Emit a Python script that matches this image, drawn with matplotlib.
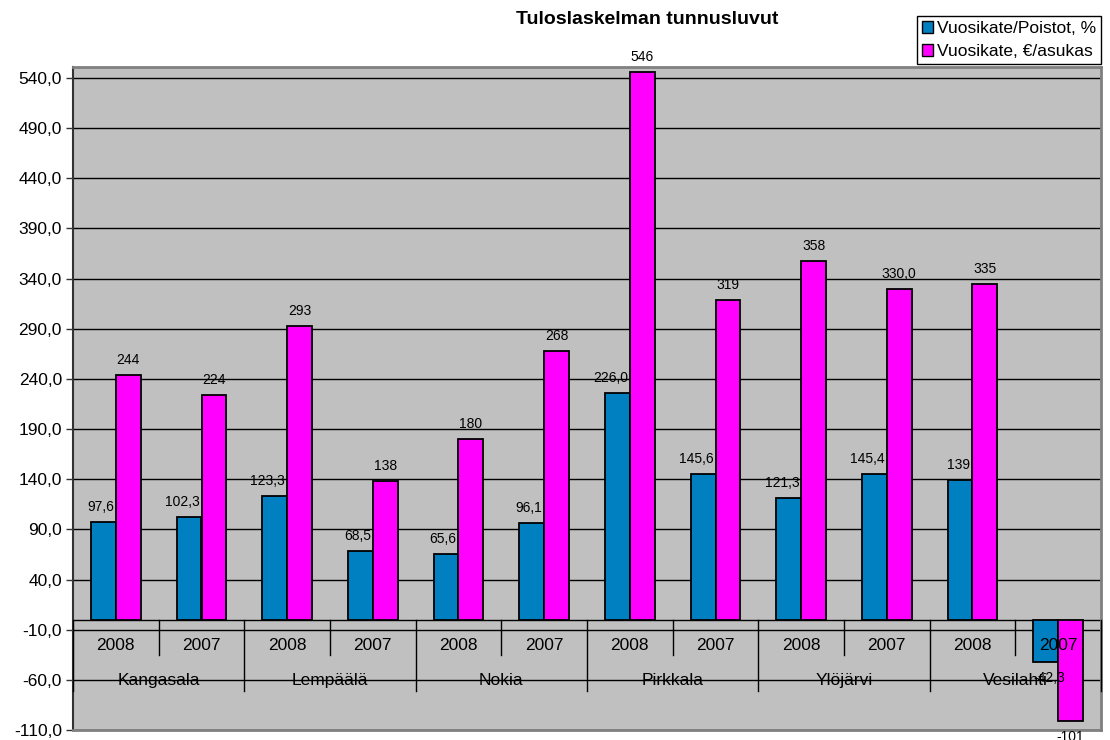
import matplotlib.pyplot as plt
from matplotlib.patches import Patch
import numpy as np

plt.rcParams['font.family'] = ['Liberation Sans', 'DejaVu Sans']

towns = ['Kangasala', 'Lempäälä', 'Nokia', 'Pirkkala', 'Ylöjärvi', 'Vesilahti']
years = ['2008', '2007']
poistot = [97.6, 102.3, 123.3, 68.5, 65.6, 96.1, 226.0, 145.6, 121.3, 145.4, 139.0, -42.3]
asukas = [244, 224, 293, 138, 180, 268, 546, 319, 358, 330.0, 335, -101]
poistot_labels = ['97,6', '102,3', '123,3', '68,5', '65,6', '96,1', '226,0', '145,6',
                  '121,3', '145,4', '139', '-42,3']
asukas_labels = ['244', '224', '293', '138', '180', '268', '546', '319', '358', '330,0',
                 '335', '-101']

blue = '#0080C0'
pink = '#FF00FF'

fig = plt.figure(figsize=(11.1, 7.4), dpi=100)
ax = fig.add_axes([73 / 1110, 10 / 740, 1028 / 1110, 663 / 740])
ax.set_facecolor('#C0C0C0')

n = len(poistot)
x = np.arange(n)
w = 0.29

ax.set_xlim(-0.5, n - 0.5)
ax.set_ylim(-110, 551)
ticks = np.arange(-110, 541, 50)
ax.set_yticks(ticks)
ax.set_yticklabels([f'{t:.1f}'.replace('.', ',') for t in ticks], fontsize=12.5)
ax.tick_params(axis='y', direction='out', length=5, width=1, color='#333333', pad=3)
ax.set_xticks([])
for t in ticks:
    ax.axhline(t, color='black', lw=1, zorder=1)
ax.axhline(0, color='black', lw=1, zorder=1)

ax.bar(x - w / 2, poistot, w, color=blue, edgecolor='black', lw=1.3, zorder=2)
ax.bar(x + w / 2, asukas, w, color=pink, edgecolor='black', lw=1.3, zorder=4)

# blue labels sit roughly right-aligned to the blue bar, under the pink bars
for xi, v, s in zip(x, poistot, poistot_labels):
    if v >= 0:
        ax.annotate(s, (xi, v), xytext=(-2, 8), textcoords='offset pixels',
                    ha='right', va='bottom', fontsize=10, zorder=3)
    else:
        ax.annotate(s, (xi - w / 2, v), xytext=(4, -9), textcoords='offset pixels',
                    ha='center', va='top', fontsize=10, zorder=5)
for xi, v, s in zip(x, asukas, asukas_labels):
    off = 8 if v >= 0 else -9
    ax.annotate(s, (xi + w / 2, v), xytext=(0, off), textcoords='offset pixels',
                ha='center', va='bottom' if v >= 0 else 'top', fontsize=10, zorder=5,
                annotation_clip=False)

# category table under the zero line
for i in range(n + 1):
    bottom = -71 if i % 2 == 0 else -35
    ax.plot([i - 0.5, i - 0.5], [0, bottom], color='black', lw=1, zorder=6, clip_on=False)
for i in range(n):
    ax.text(i, -26, years[i % 2], ha='center', va='center', fontsize=12.5, zorder=6)
for j, t in enumerate(towns):
    ax.text(2 * j + 0.5, -61, t, ha='center', va='center', fontsize=12.5, zorder=6)

for side in ['top', 'right', 'bottom']:
    ax.spines[side].set_color('#808080')
    ax.spines[side].set_linewidth(2)
ax.spines['left'].set_color('#333333')
ax.spines['left'].set_linewidth(1.5)

fig.text(647 / 1110, 1 - 20 / 740, 'Tuloslaskelman tunnusluvut', ha='center', va='center',
         fontsize=14, fontweight='bold')

handles = [Patch(facecolor=blue, edgecolor='black'), Patch(facecolor=pink, edgecolor='black')]
leg = fig.legend(handles, ['Vuosikate/Poistot, %', 'Vuosikate, €/asukas'],
                 loc='upper right', bbox_to_anchor=(1101 / 1110, 1 - 16 / 740),
                 fontsize=12.5, fancybox=False, framealpha=1, edgecolor='black',
                 borderpad=0.3, handlelength=0.65, handleheight=0.65, handletextpad=0.2,
                 labelspacing=0.45, borderaxespad=0)
leg.get_frame().set_linewidth(1)

fig.savefig('out.png', dpi=100)
